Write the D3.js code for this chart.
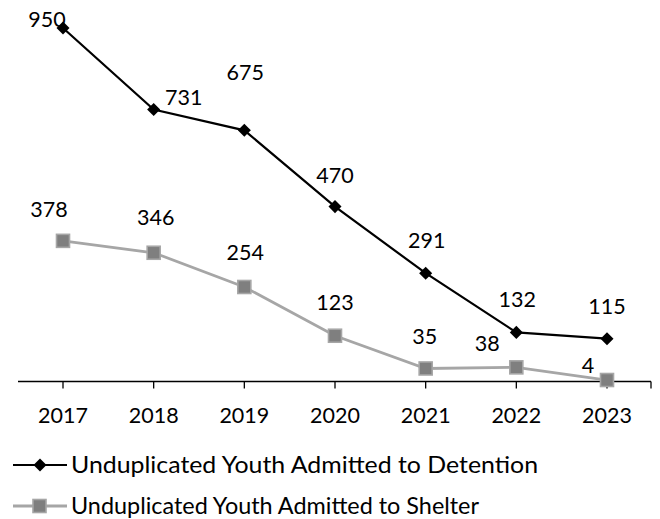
<!DOCTYPE html>
<html><head><meta charset="utf-8">
<script src="https://cdn.jsdelivr.net/npm/d3@7"></script>
<style>body{margin:0;background:#fff}svg{display:block}text{font-family:Lato,"Open Sans",sans-serif;fill:#000}</style>
</head><body><svg id="c" width="660" height="519"></svg>
<script>
const years = ["2017","2018","2019","2020","2021","2022","2023"];
const detention = [950,731,675,470,291,132,115];
const shelter = [378,346,254,123,35,38,4];
const seriesNames = ["Unduplicated Youth Admitted to Detention","Unduplicated Youth Admitted to Shelter"];

const svg = d3.select("#c");
const x = d3.scalePoint().domain(years).range([63,607]);
const y = d3.scaleLinear().domain([0,950]).range([381.5,28]);
const FS = 21.5;

// axis
svg.append("line").attr("x1",18).attr("x2",651).attr("y1",y(0)).attr("y2",y(0)).attr("stroke","#000").attr("stroke-width",1.3);
const tickX = years.map(d=>x(d)).concat([651]);
svg.selectAll("line.tk").data(tickX).enter().append("line").attr("class","tk")
  .attr("x1",d=>d).attr("x2",d=>d).attr("y1",y(0)).attr("y2",y(0)+7).attr("stroke","#000").attr("stroke-width",1.3);
svg.selectAll("text.yr").data(years).enter().append("text").attr("class","yr")
  .attr("x",d=>x(d)).attr("y",423).attr("text-anchor","middle").attr("font-size",FS).text(d=>d);

const line = d3.line().x((d,i)=>x(years[i])).y(d=>y(d));
svg.append("path").datum(shelter).attr("d",line).attr("fill","none").attr("stroke","#a6a6a6").attr("stroke-width",2.8);
svg.selectAll("rect.sh").data(shelter).enter().append("rect").attr("class","sh")
  .attr("x",(d,i)=>x(years[i])-6.5).attr("y",d=>y(d)-6.5).attr("width",13).attr("height",13)
  .attr("fill","#7f7f7f").attr("stroke","#a6a6a6").attr("stroke-width",1.6);
svg.append("path").datum(detention).attr("d",line).attr("fill","none").attr("stroke","#000").attr("stroke-width",2.2);
svg.selectAll("path.dt").data(detention).enter().append("path").attr("class","dt")
  .attr("d",d3.symbol().type(d3.symbolSquare).size(85))
  .attr("transform",(d,i)=>`translate(${x(years[i])},${y(d)}) rotate(45)`)
  .attr("fill","#000");

// labels (offset from point: dx, dy to baseline)
const detOff = [[-16,-1],[30,-4],[1,-50],[0,-24],[1,-25],[1,-25],[0,-25]];
const shOff = [[-14,-24],[2,-28],[1,-27],[0,-26],[-1,-24],[-29,-16],[-19,-7]];
svg.selectAll("text.dl").data(detention).enter().append("text").attr("class","dl")
  .attr("x",(d,i)=>x(years[i])+detOff[i][0]).attr("y",(d,i)=>y(d)+detOff[i][1])
  .attr("text-anchor","middle").attr("font-size",FS).text(d=>d);
svg.selectAll("text.sl").data(shelter).enter().append("text").attr("class","sl")
  .attr("x",(d,i)=>x(years[i])+shOff[i][0]).attr("y",(d,i)=>y(d)+shOff[i][1])
  .attr("text-anchor","middle").attr("font-size",FS).text(d=>d);

// legend
const lg = svg.append("g");
const legW = [467,408];
[465,506].forEach((ly,i)=>{
  lg.append("line").attr("x1",13).attr("x2",67).attr("y1",ly).attr("y2",ly)
    .attr("stroke",i==0?"#000":"#a6a6a6").attr("stroke-width",i==0?2.2:2.8);
  if(i==0) lg.append("path").attr("d",d3.symbol().type(d3.symbolSquare).size(85)).attr("transform",`translate(40,${ly}) rotate(45)`).attr("fill","#000");
  else lg.append("rect").attr("x",33).attr("y",ly-6.5).attr("width",13).attr("height",13).attr("fill","#7f7f7f").attr("stroke","#a6a6a6").attr("stroke-width",1.6);
  lg.append("text").attr("x",71).attr("y",ly+8).attr("font-size",23)
    .attr("textLength",legW[i]).attr("lengthAdjust","spacingAndGlyphs").text(seriesNames[i]);
});
</script></body></html>
